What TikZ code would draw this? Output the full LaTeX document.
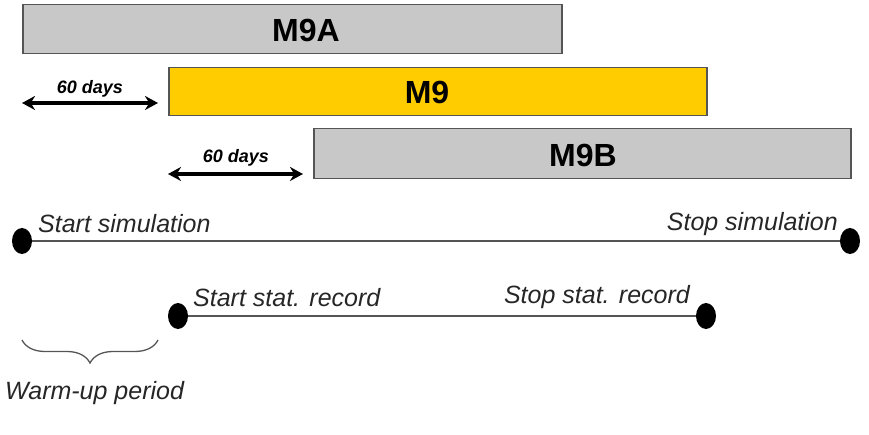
\documentclass[tikz,border=0pt]{standalone}
\usepackage{fontspec}
\setmainfont{Liberation Sans}
\usetikzlibrary{arrows.meta,decorations.pathreplacing,shapes.geometric}
\definecolor{boxgray}{RGB}{200,200,200}
\definecolor{gold}{RGB}{255,204,0}
\definecolor{edgegray}{RGB}{85,85,85}
\begin{document}
\begin{tikzpicture}[x=1pt,y=-1pt,
  bar/.style={draw=edgegray,line width=1.5pt,minimum height=49pt,inner sep=0pt,anchor=north west},
  bartext/.style={font=\fontsize{32}{36}\selectfont\bfseries,inner sep=0pt},
  tdot/.style={ellipse,fill=black,minimum width=20pt,minimum height=26pt,inner sep=0pt},
  lbl/.style={font=\fontsize{25}{28}\selectfont\itshape,inner sep=0pt,text=black!85},
  days/.style={font=\fontsize{18}{20}\selectfont\bfseries\itshape,inner sep=0pt},
  span/.style={{Stealth[length=13pt,width=14pt]}-{Stealth[length=13pt,width=14pt]},line width=3.5pt},
  tline/.style={draw=edgegray,line width=1.6pt},
  bracestyle/.style={draw=edgegray,line width=1.3pt,decorate,decoration={brace,amplitude=23pt}}]
\useasboundingbox (0,0) rectangle (869,435);
% bars
\node[bar,fill=boxgray,minimum width=539pt] (m9a) at (22,4) {};
\node[bartext] (m9atext) at (306,30) {M9A};
\node[bar,fill=gold,minimum width=538pt,minimum height=48pt] (m9) at (168,67) {};
\node[bartext] (m9text) at (427,92) {M9};
\node[bar,fill=boxgray,minimum width=537pt,minimum height=50pt] (m9b) at (313,128) {};
\node[bartext] (m9btext) at (583,155) {M9B};
% 60 days spans
\coordinate (a1l) at (22,103);
\coordinate (a1r) at (158,103);
\draw[span] (a1l) -- (a1r);
\node[days] (d1) at (90,89) {60 days};
\coordinate (a2l) at (168,174);
\coordinate (a2r) at (303,174);
\draw[span] (a2l) -- (a2r);
\node[days] (d2) at (236,158) {60 days};
% simulation timeline
\node[tdot] (ss) at (22,241) {};
\node[tdot] (es) at (850,241) {};
\draw[tline] (ss) -- (es);
\node[lbl,anchor=base west] (sslbl) at (38,233) {Start simulation};
\node[lbl,anchor=base east] (eslbl) at (838,231) {Stop simulation};
% statistics timeline
\node[tdot] (sr) at (178,316) {};
\node[tdot] (er) at (706,316) {};
\draw[tline] (sr) -- (er);
\node[lbl,anchor=base west] (srlbl) at (193,306) {Start stat. record};
\node[lbl,anchor=base east] (erlbl) at (690,303) {Stop stat. record};
% warm-up brace
\coordinate (br) at (158,340);
\coordinate (bl) at (22,340);
\draw[bracestyle] (br) -- (bl);
\node[lbl,anchor=base west] (wulbl) at (5,399) {Warm-up period};
\end{tikzpicture}
\end{document}
